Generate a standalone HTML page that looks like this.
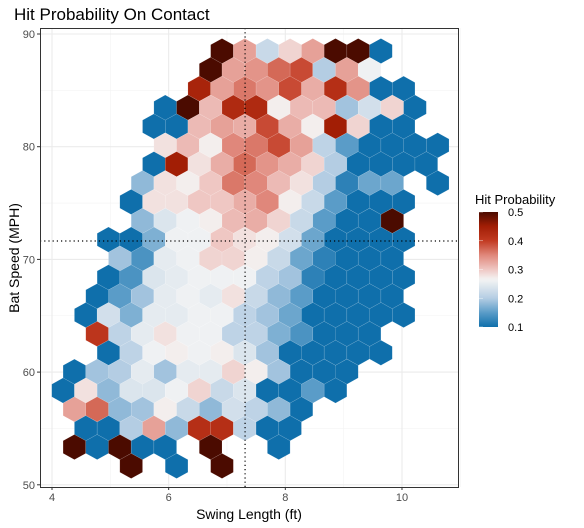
<!DOCTYPE html>
<html><head><meta charset="utf-8"><style>
html,body{margin:0;padding:0;background:#fff;}
svg{display:block;font-family:"Liberation Sans",Arial,sans-serif;}
</style></head><body>
<svg id="chart" width="584" height="528" viewBox="0 0 584 528">
  <text x="14" y="20" font-size="17" fill="#000">Hit Probability On Contact</text>
  <g id="grid"></g>
  <g id="hexes"></g>
  <g id="refs"></g>
  <rect x="40.5" y="28.5" width="418" height="459" fill="none" stroke="#333" stroke-width="1"/>
  <g id="axes"></g>
  <text x="249" y="519" font-size="14" text-anchor="middle" fill="#000">Swing Length (ft)</text>
  <text x="0" y="0" font-size="14" text-anchor="middle" fill="#000" transform="translate(19,258) rotate(-90)">Bat Speed (MPH)</text>
  <g id="legend">
    <text x="475" y="204" font-size="13" fill="#000">Hit Probability</text>
  </g>
</svg>
<script>
// ---- data ----
const xTicks = [4, 6, 8, 10];
const yTicks = [50, 60, 70, 80, 90];
const legendTicks = [0.1, 0.2, 0.3, 0.4, 0.5];
const refX = 7.31;
const refY = 71.63;
// hex rows: first column index and hit probability per cell (null = empty)
const rowStart = [7,6,6,4,4,4,4,3,3,3,2,2,2,1,1,1,2,0,0,0,1,0,3];
const row0 = [.5,.33,.22,.29,.33,.5,.5,.1];
const row1 = [.5,.33,.34,.37,.39,.2,.33,.26];
const row2 = [.44,.33,.36,.34,.39,.32,.42,.34,.1,.1];
const row3 = [.1,.5,.31,.43,.43,.27,.31,.31,.19,.23,.29,.1];
const row4 = [.1,.1,.31,.33,.32,.39,.32,.27,.45,.29,.1,.1];
const row5 = [.28,.31,.27,.35,.36,.39,.33,.21,.15,.1,.1,.1,.1];
const row6 = [.1,.45,.28,.32,.37,.34,.32,.29,.2,.1,.1,.1,.1];
const row7 = [.18,.28,.27,.3,.36,.35,.31,.28,.2,.12,.16,.16,null,.1];
const row8 = [.1,.28,.28,.3,.3,.32,.35,.27,.22,.15,.1,.1,.1];
const row9 = [.18,.24,.26,.27,.31,.32,.29,.22,.15,.1,.1,.5];
const row10 = [.1,.1,.17,.26,.26,.3,.28,.27,.23,.16,.1,.1,.1,.1];
const row11 = [.19,.14,.25,.26,.29,.29,.27,.22,.16,.12,.1,.1,.1];
const row12 = [.1,.14,.24,.25,.26,.26,.26,.21,.19,.12,.1,.1,.1,.1];
const row13 = [.1,.15,.19,.25,.26,.25,.28,.22,.18,.15,.1,.1,.1,.1];
const row14 = [.1,.23,.17,.25,.25,.26,.26,.21,.19,.16,.1,.1,.1,.1,.1];
const row15 = [.41,.21,.25,.28,.26,.26,.21,.21,.17,.14,.1,.1,.1];
const row16 = [.1,.21,.26,.27,.26,.27,.24,.19,.1,.1,.1,.1,.1];
const row17 = [.1,.19,.2,.25,.19,.25,.25,.29,.27,.19,.1,.1,.1];
const row18 = [.1,.28,.18,.24,.24,.26,.29,.22,.24,.1,.1,.15,.1];
const row19 = [.33,.37,.18,.19,.27,.22,.18,.23,.21,.18,.1];
const row20 = [.1,.1,.2,.33,.18,.42,.42,.21,.1,.1];
const row21 = [.5,.1,.5,.1,.1,null,.5,null,null,.1];
const row22 = [.5,null,.1,null,.5];
const rows = [row0,row1,row2,row3,row4,row5,row6,row7,row8,row9,row10,row11,row12,row13,row14,row15,row16,row17,row18,row19,row20,row21,row22];
// hex grid in data units
const hexX0 = 4.190, hexDX = 0.3892, hexY0 = 88.49, hexDY = 1.6735;

// ---- scales ----
const xs = v => 52 + (v - 4) * 58.33;
const ys = v => 34 + (90 - v) * 11.27;
const NS = "http://www.w3.org/2000/svg";
function mk(tag, attrs, parent){const e=document.createElementNS(NS,tag);for(const k in attrs)e.setAttribute(k,attrs[k]);parent.appendChild(e);return e;}

const stops = [[0.1,[15,111,171]],[0.15,[90,156,200]],[0.2,[180,205,227]],[0.265,[244,244,244]],[0.3,[239,199,195]],[0.35,[224,135,123]],[0.4,[194,59,34]],[0.45,[162,30,5]],[0.5,[75,11,0]]];
function color(v){
  v=Math.max(0.1,Math.min(0.5,v));
  for(let i=1;i<stops.length;i++){
    if(v<=stops[i][0]){const a=stops[i-1],b=stops[i];const t=(v-a[0])/(b[0]-a[0]);
      const c=a[1].map((x,j)=>Math.round(x+(b[1][j]-x)*t));return `rgb(${c.join(',')})`;}
  }
  return 'rgb(75,11,0)';
}

// grid
const grid=document.getElementById('grid');
[5,7,9,11].forEach(v=>{const l=mk('line',{x1:xs(v),x2:xs(v),y1:28,y2:487,stroke:'#f3f3f3','stroke-width':0.6},grid);

});
[55,65,75,85].forEach(v=>{const l=mk('line',{x1:40,x2:458,y1:ys(v),y2:ys(v),stroke:'#f3f3f3','stroke-width':0.6},grid);

});
xTicks.forEach(v=>{const l=mk('line',{x1:xs(v),x2:xs(v),y1:28,y2:487,stroke:'#ebebeb','stroke-width':1.1},grid);

});
yTicks.forEach(v=>{const l=mk('line',{x1:40,x2:458,y1:ys(v),y2:ys(v),stroke:'#ebebeb','stroke-width':1.1},grid);

});

// hexes
const hg=document.getElementById('hexes');
const hw=11.35, hh=12.57, hs=6.28;
rows.forEach((vals,r)=>{
  vals.forEach((v,i)=>{
    if(v===null)return;
    const k=rowStart[r]+i;
    const cxD=hexX0+(k+(r%2?0.5:0))*hexDX;
    const cyD=hexY0-r*hexDY;
    const cx=xs(cxD), cy=ys(cyD);
    const pts=[[cx,cy-hh],[cx+hw,cy-hs],[cx+hw,cy+hs],[cx,cy+hh],[cx-hw,cy+hs],[cx-hw,cy-hs]].map(p=>p[0].toFixed(2)+','+p[1].toFixed(2)).join(' ');
    const p=mk('polygon',{points:pts,fill:color(v),stroke:'rgba(255,255,255,0.22)','stroke-width':0.5},hg);
    
    
  });
});

// reference lines
const refs=document.getElementById('refs');
const rv=mk('line',{x1:xs(refX),x2:xs(refX),y1:28,y2:487,stroke:'#000','stroke-width':1.2,'stroke-dasharray':'1.2,3'},refs);


const rh=mk('line',{x1:40,x2:458,y1:ys(refY),y2:ys(refY),stroke:'#000','stroke-width':1.2,'stroke-dasharray':'1.2,3'},refs);



// axes
const ax=document.getElementById('axes');
xTicks.forEach(v=>{
  const t=mk('line',{x1:xs(v),x2:xs(v),y1:487,y2:490,stroke:'#333'},ax);
  
  
  const l=mk('text',{x:xs(v),y:501,'font-size':11,'text-anchor':'middle',fill:'#4d4d4d'},ax);l.textContent=v;
  
  
});
yTicks.forEach(v=>{
  const t=mk('line',{x1:37,x2:40,y1:ys(v),y2:ys(v),stroke:'#333'},ax);
  
  
  const l=mk('text',{x:35,y:ys(v)+4,'font-size':11,'text-anchor':'end',fill:'#4d4d4d'},ax);l.textContent=v;
  
  
});

// legend
const lg=document.getElementById('legend');
const defs=mk('defs',{},lg);
const grad=mk('linearGradient',{id:'lgrad',x1:0,y1:1,x2:0,y2:0},defs);
for(let i=0;i<=40;i++){const v=0.1+i*0.01;mk('stop',{offset:(i/40),'stop-color':color(v)},grad);}
const ly=v=>327-(v-0.1)/0.4*115;
const bar=mk('rect',{x:479,y:ly(0.5),width:19,height:115,fill:'url(#lgrad)'},lg);


legendTicks.forEach(v=>{
  const t1=mk('line',{x1:479,x2:483,y1:ly(v),y2:ly(v),stroke:'#fff','stroke-width':0.6,opacity:0.7},lg);
  
  
  const l=mk('text',{x:508,y:ly(v)+4,'font-size':11,fill:'#000'},lg);l.textContent=v.toFixed(1);
  
  
});
</script>
</body></html>
